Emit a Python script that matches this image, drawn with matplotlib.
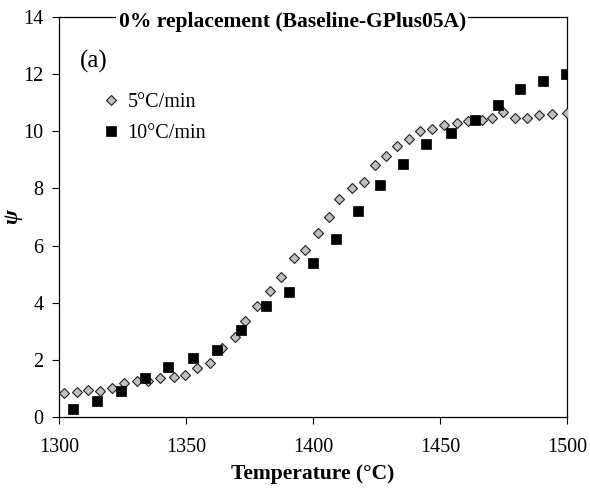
import numpy as np
import matplotlib
matplotlib.use("Agg")
import matplotlib.pyplot as plt

# psi vs temperature
temp_5 = [1302.0, 1307.0, 1311.5, 1316.1, 1320.7, 1325.7, 1330.6, 1335.2, 1339.8,
          1345.3, 1349.6, 1354.4, 1359.4, 1364.1, 1369.3, 1373.2, 1378.1, 1383.1,
          1387.4, 1392.5, 1396.9, 1401.9, 1406.3, 1410.4, 1415.3, 1420.2, 1424.4,
          1428.6, 1433.1, 1437.8, 1442.2, 1446.9, 1451.6, 1456.6, 1461.1, 1466.4,
          1470.6, 1474.9, 1479.5, 1484.4, 1489.1, 1494.0, 1499.9]
psi_5 = [0.87, 0.90, 0.96, 0.94, 1.04, 1.19, 1.28, 1.28, 1.37,
         1.40, 1.48, 1.72, 1.91, 2.42, 2.80, 3.38, 3.89, 4.43,
         4.92, 5.56, 5.85, 6.45, 7.01, 7.62, 8.02, 8.21, 8.81,
         9.12, 9.47, 9.74, 10.02, 10.06, 10.22, 10.28, 10.34, 10.40,
         10.46, 10.66, 10.45, 10.45, 10.56, 10.58, 10.64]

temp_10 = [1305.6, 1315.1, 1324.3, 1333.9, 1343.0, 1352.6, 1362.3, 1371.7,
           1381.4, 1390.6, 1400.1, 1408.9, 1417.6, 1426.4, 1435.6, 1444.4,
           1454.4, 1463.8, 1473.0, 1481.5, 1490.4, 1499.6]
psi_10 = [0.29, 0.58, 0.92, 1.39, 1.75, 2.07, 2.35, 3.06,
          3.90, 4.37, 5.38, 6.23, 7.22, 8.12, 8.85, 9.55,
          9.92, 10.38, 10.91, 11.47, 11.76, 11.99]

labels = ["5\u00b0C/min", "10\u00b0C/min"]
title = "0% replacement (Baseline-GPlus05A)"
x_ticks = [1300, 1350, 1400, 1450, 1500]
y_ticks = [0, 2, 4, 6, 8, 10, 12, 14]

plt.rcParams['font.family'] = ['Liberation Serif', 'DejaVu Serif']

fig = plt.figure(figsize=(5.9, 4.95), dpi=100)
ax = fig.add_axes([0.1, 0.1566, 0.861, 0.81])

ax.plot(temp_5, psi_5, linestyle='none', marker='D', markersize=5.4,
        markerfacecolor='#c0c0c0', markeredgecolor='#202020',
        markeredgewidth=0.8, label=labels[0], zorder=3)
ax.plot(temp_10, psi_10, linestyle='none', marker='s', markersize=7.2,
        markerfacecolor='black', markeredgecolor='black',
        markeredgewidth=0.5, label=labels[1], zorder=4)

ax.set_xlim(1300, 1500)
ax.set_ylim(0, 14)
ax.set_xticks(x_ticks)
ax.set_yticks(y_ticks)
ax.tick_params(direction='out', length=5, width=0.8, labelsize=14.5)
ax.tick_params(axis='x', pad=10)
ax.tick_params(axis='y', pad=6)
for s in ax.spines.values():
    s.set_linewidth(0.9)

ax.set_xlabel("Temperature (\u00b0C)", fontsize=15.5, fontweight='bold', labelpad=5)
ax.set_ylabel("\u03c8", fontsize=16, fontweight='bold', fontstyle='italic')
ax.yaxis.set_label_coords(-0.072, 0.5)

ax.text(0.459, 0.987, title, transform=ax.transAxes, ha='center', va='center',
        fontsize=15.5, fontweight='bold',
        bbox=dict(facecolor='white', edgecolor='none', pad=1.5), zorder=5)
ax.text(0.068, 0.887, "(a)", transform=ax.transAxes, ha='center', va='center',
        fontsize=18)

ax.legend(loc='upper left', bbox_to_anchor=(0.085, 0.81), frameon=False,
          fontsize=14.5, handlelength=0.9, handletextpad=0.35,
          labelspacing=0.6, borderpad=0, borderaxespad=0)

fig.savefig("out.png", dpi=100)
